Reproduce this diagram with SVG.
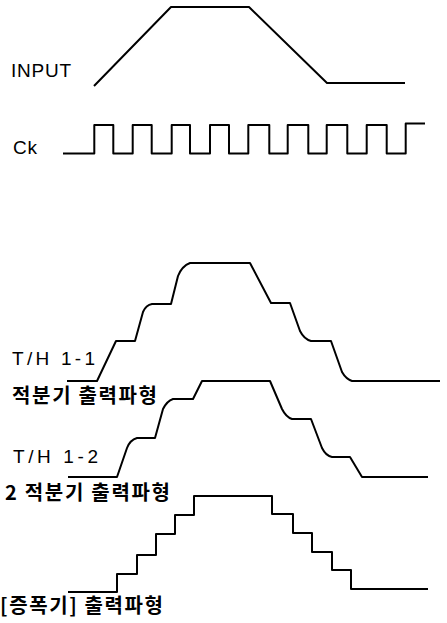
<svg xmlns="http://www.w3.org/2000/svg" width="447" height="623" viewBox="0 0 447 623">
<style>
.w{fill:none;stroke:#000;stroke-width:2;stroke-linejoin:round;stroke-linecap:butt}
.t{font-family:"Liberation Sans","DejaVu Sans",sans-serif;font-size:19px;fill:#000}
.k{font-family:"Noto Sans CJK KR","Noto Sans",sans-serif;font-size:20px;font-weight:bold;fill:#000}
</style>
<rect width="447" height="623" fill="#fff"/>
<g id="input">
<text class="t" x="11" y="77" textLength="60" lengthAdjust="spacing">INPUT</text>
<path class="w" d="M94,86 L171,7 L249,7 L327,83 L405,83"/>
</g>
<g id="clock">
<text class="t" x="13" y="154" textLength="24" lengthAdjust="spacing">Ck</text>
<path class="w" d="M63,153.5 H94.3 V125 H113.3 V153.5 H132.7 V125 H151.7 V153.5 H171.7 V125 H190 V153.5 H210 V125 H229 V153.5 H248.3 V125 H269.3 V153.5 H287.7 V125 H308.3 V153.5 H326.7 V125 H347.3 V153.5 H366.7 V125 H386.7 V153.5 H405.7 V123.5 H425"/>
</g>
<g id="th11">
<text class="t" x="12" y="365" textLength="83" lengthAdjust="spacing">T/H 1-1</text>
<path class="w" d="M67,381 L97,381 L116,341 L135,341 L143,312 Q146,305 152,304 L171,304 L178,276 Q182,266 190,263 L250,263 L271,303 L290,303 L300,331 Q304,339 311,341 L331,341 L342,372 Q346,379 352,381 L440,381"/>
<text class="k" x="12" y="403" textLength="145" lengthAdjust="spacing">적분기 출력파형</text>
</g>
<g id="th12">
<text class="t" x="13" y="463" textLength="85" lengthAdjust="spacing">T/H 1-2</text>
<path class="w" d="M68,477 L117,477 L127,448 Q130,440 137,438 L155,438 L163,409 Q167,401 173,399 L193,399 L202,381 L270,381 L282,409 Q286,417 292,419 L311,419 L322,448 Q326,456 332,457 L350,457 L362,477 L428,477"/>
<text class="k" x="5" y="500" textLength="165" lengthAdjust="spacing">2 적분기 출력파형</text>
</g>
<g id="amp">
<path class="w" d="M68,592 H117 V574 H137 V555 H156 V534 H175 V515 H194 V496 H272 V514 H293 V533 H312 V552 H332 V570 H351 V589 H428"/>
<text class="k" x="0" y="613" textLength="163" lengthAdjust="spacing">[증폭기] 출력파형</text>
</g>
</svg>
